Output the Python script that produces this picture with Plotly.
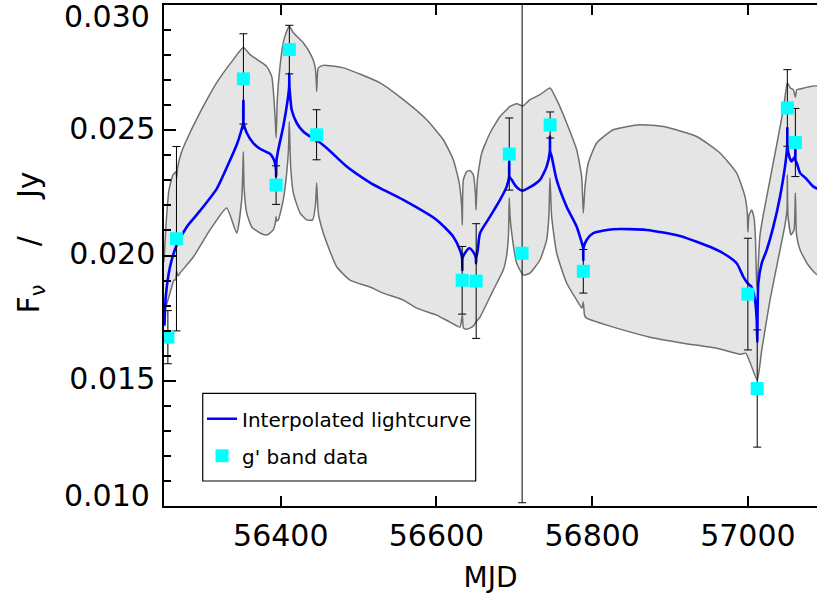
import plotly.graph_objects as go

# ---------------- data (MJD, flux in Jy) ----------------
obs_mjd = [56255.0, 56266.0, 56352.0, 56394.0, 56411.0, 56446.0, 56633.0, 56651.0,
           56693.5, 56710.0, 56746.0, 56788.6, 57000.0, 57012.0, 57050.7, 57061.0]
obs_flux = [0.01674, 0.02067, 0.02705, 0.02281, 0.02822, 0.02482, 0.01901, 0.01898,
            0.02405, 0.02009, 0.02521, 0.01937, 0.01846, 0.01469, 0.02589, 0.02451]
obs_err = [0.00106, 0.00368, 0.00180, 0.00077, 0.00097, 0.00100, 0.00135, 0.00229,
           0.00144, 0.00996, 0.00052, 0.00087, 0.00223, 0.00234, 0.00153, 0.00136]

lc_mjd = [56250.6, 56252.2, 56257.7, 56266.3, 56279.2, 56296.2, 56317.7, 56332.2, 56343.4,
          56348.9, 56351.9, 56352.0, 56352.1, 56356.2, 56364.7, 56373.3, 56386.2,
          56390.0, 56392.6, 56393.9, 56394.0, 56394.5, 56396.8, 56403.2, 56408.9,
          56410.8, 56410.9, 56411.1, 56412.5, 56414.0, 56420.5, 56428.9, 56439.7,
          56445.2, 56446.0, 56446.8, 56459.0, 56484.7, 56514.6, 56527.5, 56557.4,
          56600.3, 56621.6, 56630.2, 56632.9, 56633.2, 56633.5, 56636.6, 56642.2,
          56647.3, 56650.6, 56650.8, 56651.1, 56653.0, 56655.9, 56668.8, 56681.6,
          56690.2, 56693.3, 56693.5, 56693.7, 56696.6, 56703.0, 56710.2, 56720.1,
          56732.9, 56741.5, 56745.6, 56745.8, 56746.0, 56748.0, 56754.4, 56767.2,
          56780.1, 56785.6, 56788.4, 56788.6, 56788.8, 56792.9, 56801.4, 56827.1,
          56870.0, 56912.8, 56955.5, 56968.4, 56985.6, 56994.2, 56999.8, 57004.9,
          57009.2, 57011.4, 57012.1, 57013.4, 57017.8, 57024.2, 57032.7, 57041.3,
          57047.7, 57050.5, 57050.7, 57050.9, 57053.2, 57056.3, 57059.3, 57060.9,
          57061.0, 57061.2, 57062.8, 57067.1, 57073.9, 57084.2, 57090.0]
lc_flux = [0.01720, 0.01834, 0.01954, 0.02042, 0.02114, 0.02178, 0.02266, 0.02362, 0.02442,
           0.02494, 0.02530, 0.02618, 0.02530, 0.02490, 0.02449, 0.02426, 0.02406,
           0.02390, 0.02369, 0.02340, 0.02315, 0.02380, 0.02422, 0.02515, 0.02622,
           0.02675, 0.02725, 0.02675, 0.02622, 0.02582, 0.02529, 0.02495, 0.02471,
           0.02462, 0.02455, 0.02458, 0.02429, 0.02355, 0.02291, 0.02269, 0.02222,
           0.02142, 0.02075, 0.02022, 0.01990, 0.01942, 0.01990, 0.02010, 0.02029,
           0.02014, 0.01990, 0.01969, 0.01990, 0.02022, 0.02089, 0.02155, 0.02222,
           0.02275, 0.02315, 0.02375, 0.02315, 0.02302, 0.02273, 0.02259, 0.02273,
           0.02302, 0.02355, 0.02415, 0.02475, 0.02415, 0.02395, 0.02302, 0.02195,
           0.02115, 0.02062, 0.02030, 0.01982, 0.02030, 0.02062, 0.02089, 0.02105,
           0.02102, 0.02078, 0.02029, 0.02009, 0.01969, 0.01915, 0.01889, 0.01874,
           0.01822, 0.01742, 0.01654, 0.01889, 0.01969, 0.02022, 0.02115, 0.02235,
           0.02355, 0.02435, 0.02509, 0.02435, 0.02395, 0.02375, 0.02390, 0.02395,
           0.02422, 0.02380, 0.02369, 0.02329, 0.02310, 0.02275, 0.02266]

up_mjd = [56250.0, 56252.6, 56256.4, 56261.6, 56265.4, 56266.3, 56267.3, 56272.7, 56279.2,
          56296.2, 56317.7, 56339.0, 56351.9, 56360.5, 56373.3, 56381.9, 56388.4,
          56391.3, 56393.2, 56393.9, 56394.6, 56395.5, 56399.0, 56403.2, 56407.6,
          56411.2, 56416.1, 56428.9, 56439.7, 56444.0, 56445.5, 56446.1, 56446.9,
          56448.2, 56454.6, 56480.3, 56527.5, 56557.4, 56587.4, 56608.8, 56621.6,
          56629.3, 56632.4, 56633.2, 56634.5, 56638.8, 56643.1, 56647.3, 56650.1,
          56650.8, 56652.5, 56658.1, 56668.8, 56681.6, 56690.2, 56694.4, 56703.0,
          56709.5, 56711.5, 56720.1, 56732.9, 56745.8, 56754.4, 56767.2, 56780.1,
          56786.5, 56788.6, 56790.8, 56795.0, 56805.8, 56827.1, 56861.4, 56891.4,
          56934.2, 56964.2, 56985.6, 56996.3, 56999.3, 57000.0, 57001.5, 57004.9,
          57007.9, 57009.8, 57011.1, 57012.1, 57013.0, 57015.6, 57019.8, 57028.4,
          57045.5, 57050.7, 57054.2, 57058.4, 57061.0, 57062.8, 57067.1, 57090.0]
up_flux = [0.01974, 0.02122, 0.02262, 0.02322, 0.02334, 0.02310, 0.02350, 0.02414, 0.02462,
           0.02570, 0.02690, 0.02782, 0.02830, 0.02802, 0.02775, 0.02755, 0.02715,
           0.02622, 0.02522, 0.02470, 0.02522, 0.02622, 0.02755, 0.02849, 0.02895,
           0.02915, 0.02889, 0.02849, 0.02795, 0.02755, 0.02702, 0.02655, 0.02710,
           0.02749, 0.02759, 0.02749, 0.02689, 0.02622, 0.02542, 0.02462, 0.02382,
           0.02289, 0.02195, 0.02122, 0.02302, 0.02335, 0.02339, 0.02322, 0.02242,
           0.02182, 0.02302, 0.02409, 0.02489, 0.02555, 0.02582, 0.02595, 0.02606,
           0.02598, 0.02598, 0.02622, 0.02642, 0.02669, 0.02622, 0.02529, 0.02422,
           0.02315, 0.02169, 0.02275, 0.02369, 0.02449, 0.02502, 0.02522, 0.02515,
           0.02475, 0.02409, 0.02329, 0.02235, 0.02169, 0.02094, 0.02162, 0.02182,
           0.02150, 0.02062, 0.01902, 0.01862, 0.01942, 0.02082, 0.02162, 0.02302,
           0.02582, 0.02690, 0.02670, 0.02662, 0.02632, 0.02662, 0.02665, 0.02675]

lo_mjd = [56250.0, 56257.7, 56262.8, 56264.8, 56266.3, 56268.0, 56270.6, 56287.6, 56309.1,
          56330.5, 56343.4, 56349.8, 56351.1, 56351.9, 56352.8, 56356.2, 56362.7,
          56373.3, 56381.9, 56390.4, 56393.2, 56393.9, 56394.6, 56396.8, 56403.2,
          56407.6, 56409.9, 56410.9, 56412.7, 56416.1, 56424.7, 56433.3, 56441.0,
          56444.6, 56446.1, 56448.2, 56454.6, 56471.8, 56488.9, 56514.6, 56531.7,
          56557.4, 56574.6, 56600.3, 56617.4, 56630.2, 56633.2, 56634.7, 56638.8,
          56643.1, 56648.3, 56650.8, 56655.9, 56673.0, 56685.8, 56690.2, 56692.5,
          56693.5, 56694.4, 56696.6, 56703.0, 56711.5, 56720.1, 56732.9, 56741.5,
          56744.5, 56745.8, 56748.0, 56754.4, 56767.2, 56780.1, 56786.9, 56788.6,
          56790.2, 56792.9, 56831.5, 56874.2, 56917.0, 56959.9, 56989.9, 56997.2,
          57002.7, 57012.1, 57017.8, 57028.4, 57041.3, 57047.7, 57050.3, 57050.7,
          57051.5, 57055.4, 57059.3, 57061.0, 57062.5, 57067.1, 57077.4, 57090.0]
lo_flux = [0.01770, 0.01850, 0.01902, 0.01902, 0.01938, 0.01918, 0.01930, 0.01994, 0.02102,
           0.02190, 0.02090, 0.02222, 0.02322, 0.02415, 0.02274, 0.02170, 0.02114,
           0.02090, 0.02082, 0.02102, 0.02134, 0.02155, 0.02138, 0.02142, 0.02222,
           0.02330, 0.02422, 0.02535, 0.02354, 0.02250, 0.02170, 0.02142, 0.02142,
           0.02202, 0.02289, 0.02170, 0.02090, 0.01955, 0.01902, 0.01874, 0.01850,
           0.01822, 0.01790, 0.01762, 0.01734, 0.01714, 0.01762, 0.01710, 0.01706,
           0.01710, 0.01722, 0.01735, 0.01754, 0.01862, 0.01942, 0.02002, 0.02082,
           0.02230, 0.02162, 0.02090, 0.01970, 0.01922, 0.01930, 0.01982, 0.02062,
           0.02162, 0.02310, 0.02154, 0.02010, 0.01890, 0.01822, 0.01790, 0.01814,
           0.01762, 0.01750, 0.01710, 0.01674, 0.01650, 0.01630, 0.01606, 0.01610,
           0.01574, 0.01502, 0.01622, 0.01822, 0.02022, 0.02122, 0.02182, 0.02322,
           0.02162, 0.02082, 0.02102, 0.02250, 0.02082, 0.02022, 0.01962, 0.01922]

x_ticks = [56400, 56600, 56800, 57000]
x_ticktext = ["56400", "56600", "56800", "57000"]
y_ticks = [0.015, 0.020, 0.025]
y_ticktext = ["0.015", "0.020", "0.025"]
y_end_values = [0.030, 0.010]
y_end_labels = ["0.030", "0.010"]
x_range = [56250.0, 57088.8]
y_range = [0.010, 0.030]

FONT = "DejaVu Sans"
NB = "\u00a0"

fig = go.Figure()

fig.add_trace(go.Scatter(
    x=up_mjd + lo_mjd[::-1], y=up_flux + lo_flux[::-1],
    mode="lines", fill="toself", fillcolor="#e5e5e5",
    line=dict(color="#6f6f6f", width=1.5, shape="spline", smoothing=0.5),
    showlegend=False, hoverinfo="skip"))

fig.add_trace(go.Scatter(
    x=lc_mjd, y=lc_flux, mode="lines",
    line=dict(color="#0000ff", width=2.6, shape="spline", smoothing=0.6),
    name="Interpolated lightcurve", legendrank=1, legendgroup="a"))

fig.add_trace(go.Scatter(
    x=obs_mjd, y=obs_flux, mode="markers",
    marker=dict(symbol="square", size=13, color="#00ffff"),
    error_y=dict(type="data", array=obs_err, color="black", thickness=1, width=4),
    name="g' band data", legendrank=2, legendgroup="b"))

# invisible trace to anchor the top axis
fig.add_trace(go.Scatter(x=[x_range[0]], y=[0.02], xaxis="x2", mode="markers",
                         marker=dict(opacity=0), showlegend=False, hoverinfo="skip"))

axis_common = dict(showgrid=False, zeroline=False, showline=True, linecolor="black",
                   linewidth=1.5, ticks="inside", tickcolor="black", tickwidth=1.5,
                   automargin=False)

end_label_shift = [-11.5, 10.5]
annotations = [dict(text=t, xref="paper", yref="y", x=0, y=v,
                    xanchor="right", yanchor="middle", xshift=-12, yshift=s,
                    showarrow=False, font=dict(size=30, family=FONT))
               for t, v, s in zip(y_end_labels, y_end_values, end_label_shift)]
annotations.append(dict(text="F<sub>ν</sub>" + NB * 4 + "/" + NB * 4 + "Jy",
                        xref="paper", yref="paper", x=0, y=0.526, xshift=-134,
                        xanchor="center", yanchor="middle", textangle=-90,
                        showarrow=False, font=dict(size=30, family=FONT)))

fig.update_layout(
    width=817, height=599,
    margin=dict(l=164, r=0, t=5, b=93),
    paper_bgcolor="white", plot_bgcolor="white",
    font=dict(family=FONT, color="black"),
    xaxis=dict(range=x_range, tickvals=x_ticks, ticktext=x_ticktext, ticklen=10,
               tickfont=dict(size=30), ticklabelstandoff=2,
               title=dict(text="MJD", font=dict(size=28), standoff=16),
               **axis_common),
    xaxis2=dict(range=x_range, tickvals=x_ticks, ticklen=10, overlaying="x",
                side="top", anchor="y", showticklabels=False, **axis_common),
    yaxis=dict(range=y_range, tickvals=y_ticks, ticktext=y_ticktext, ticklen=12,
               tickfont=dict(size=30), ticklabelstandoff=1, ticklabelshift=-2,
               minor=dict(ticks="inside", ticklen=7, dtick=0.001, tick0=0.010,
                          tickcolor="black", tickwidth=1.5),
               **axis_common),
    legend=dict(x=0.0582, y=0.213, xanchor="left", yanchor="top",
                bgcolor="rgba(0,0,0,0)", borderwidth=0, tracegroupgap=8,
                font=dict(size=20, family=FONT), traceorder="grouped"),
    shapes=[dict(type="rect", xref="paper", yref="paper",
                 x0=0.0593, x1=0.4773, y0=0.0499, y1=0.2250,
                 line=dict(color="black", width=1.2), fillcolor="white", layer="below")],
    annotations=annotations,
)

fig.write_html("out.html", config={"displayModeBar": False},
               post_script="document.body.style.margin='0';")
